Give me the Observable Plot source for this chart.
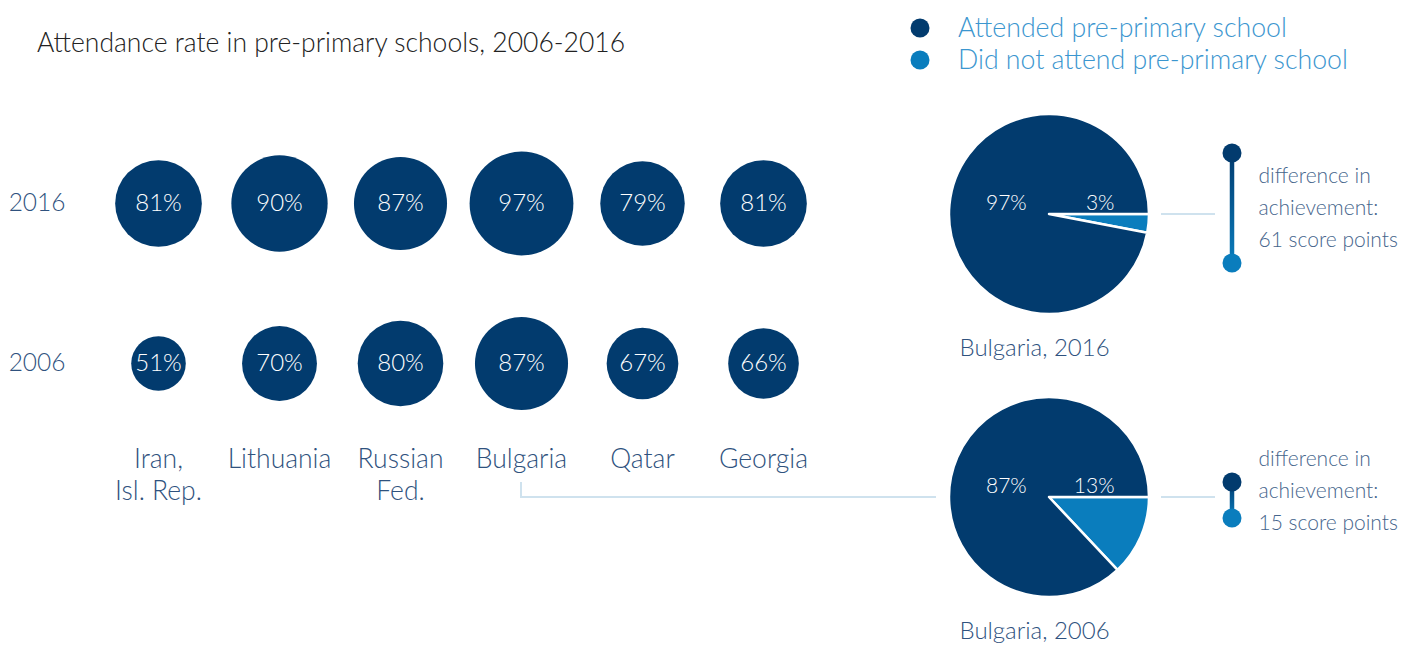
<!DOCTYPE html>
<html><head><meta charset="utf-8">
<script src="https://cdn.jsdelivr.net/npm/d3@7"></script>
<script src="https://cdn.jsdelivr.net/npm/@observablehq/plot@0.6"></script>
<style>
body{margin:0;background:#fff;font-family:Lato,sans-serif;}
#wrap{position:relative;width:1402px;height:646px;overflow:hidden;background:#fff;}
.abs{position:absolute;}
.abs svg{max-width:none;}
</style></head>
<body><div id="wrap"></div>
<script>
// ---- data ----
const countries = ["Iran, Isl. Rep.", "Lithuania", "Russian Fed.", "Bulgaria", "Qatar", "Georgia"];
const countryLabels = ["Iran,\nIsl. Rep.", "Lithuania", "Russian\nFed.", "Bulgaria", "Qatar", "Georgia"];
const years = ["2016", "2006"];
const rate2016 = [81, 90, 87, 97, 79, 81];
const rate2006 = [51, 70, 80, 87, 67, 66];
const pieYears = ["2016", "2006"];
const bulgariaAttended = [97, 87];
const bulgariaNotAttended = [3, 13];
const scoreDiff = [61, 15];
const legendLabels = ["Attended pre-primary school", "Did not attend pre-primary school"];
const titleText = "Attendance rate in pre-primary schools, 2006-2016";

const navy = "#023b6e", light = "#0a7dbd";
const slate = "#2f527e", slate2 = "#46658c", legendText = "#3b96cf", connector = "#cfe2ee";
const colorScale = d3.scaleOrdinal().domain(legendLabels).range([navy, light]);

const wrap = d3.select("#wrap");

// ---- title + legend ----
const head = wrap.append("svg").attr("class", "abs").style("left", "0px").style("top", "0px")
  .attr("width", 1402).attr("height", 80);
head.append("text").attr("x", 37).attr("y", 52).attr("font-family", "Lato").attr("font-weight", 300)
  .attr("font-size", 26.5).attr("fill", "#222").text(titleText);
const lg = head.selectAll("g.lg").data(legendLabels).join("g")
  .attr("transform", (d, i) => `translate(920,${28 + i * 32})`);
lg.append("circle").attr("r", 9.5).attr("fill", d => colorScale(d));
lg.append("text").attr("x", 38).attr("dy", "0.35em").attr("font-family", "Lato").attr("font-weight", 300)
  .attr("font-size", 26.7).attr("fill", legendText).text(d => d);

// ---- bubble grid ----
const bubbleData = years.flatMap(y => countries.map((c, i) => ({year: y, country: c, value: y === "2016" ? rate2016[i] : rate2006[i]})));

function bulgariaConnector(index, scales, values, dim) {
  const xb = scales.x("Bulgaria");
  const y0 = scales.y("2006");
  return d3.create("svg:path")
    .attr("d", `M${xb},${y0 + 119}V${y0 + 134}H${dim.width - 4}`)
    .attr("fill", "none").attr("stroke", connector).attr("stroke-width", 2).node();
}

const plot1 = Plot.plot({
  width: 940, height: 646,
  marginLeft: 157, marginRight: 176, marginTop: 203, marginBottom: 283,
  x: {type: "point", domain: countries, padding: 0, axis: null},
  y: {type: "point", domain: years, padding: 0, axis: null},
  r: {type: "linear", domain: [0, 100], range: [0, 53.5]},
  style: {fontFamily: "Lato", background: "transparent", overflow: "visible"},
  marks: [
    bulgariaConnector,
    Plot.text(years, {y: d => d, frameAnchor: "left", dx: -92, textAnchor: "end", fontSize: 24.5, fill: slate, fontWeight: 300}),
    Plot.text(countries, {x: d => d, y: () => "2006", text: (d, i) => countryLabels[i], lineAnchor: "top", dy: 82, lineHeight: 1.2, fontSize: 26.5, fill: slate, fontWeight: 300}),
    Plot.dot(bubbleData, {x: "country", y: "year", r: "value", fill: navy}),
    Plot.text(bubbleData, {x: "country", y: "year", text: d => d.value + "%", fill: "white", fontSize: 24, fontWeight: 300})
  ]
});
wrap.append("div").attr("class", "abs").style("left", "0px").style("top", "0px").node().appendChild(plot1);

// ---- pies panel ----
const R = 100;
function pies(index, scales, values, dim) {
  const g = d3.create("svg:g");
  const cx = dim.marginLeft + R;
  const arc = d3.arc().innerRadius(0).outerRadius(R);
  const pie = d3.pie().sort(null).startAngle(Math.PI / 2).endAngle(Math.PI / 2 + 2 * Math.PI);
  pieYears.forEach((yr, i) => {
    const cy = scales.y(yr);
    const arcs = pie([bulgariaNotAttended[i], bulgariaAttended[i]]);
    g.append("g").attr("transform", `translate(${cx},${cy})`)
      .selectAll("path").data(arcs).join("path")
      .attr("d", arc).attr("fill", (d, j) => j === 0 ? light : navy)
      .attr("stroke", "white").attr("stroke-width", 2.5).attr("stroke-linejoin", "round");
    g.append("line").attr("x1", cx + R + 12).attr("x2", cx + R + 66).attr("y1", cy).attr("y2", cy)
      .attr("stroke", connector).attr("stroke-width", 2);
  });
  return g.node();
}

const len = d3.scaleLinear().domain([15, 61]).range([36, 110]);
function dumbbells(index, scales, values, dim) {
  const g = d3.create("svg:g");
  const x = dim.marginLeft + 283;
  pieYears.forEach((yr, i) => {
    const cy = scales.y(yr);
    const top = cy - scoreDiff[i];
    const bottom = top + len(scoreDiff[i]);
    const id = "grad" + yr;
    const grad = g.append("defs").append("linearGradient").attr("id", id)
      .attr("gradientUnits", "userSpaceOnUse").attr("x1", x).attr("x2", x).attr("y1", top).attr("y2", bottom);
    grad.append("stop").attr("offset", "0%").attr("stop-color", navy);
    grad.append("stop").attr("offset", "100%").attr("stop-color", light);
    g.append("line").attr("x1", x).attr("x2", x).attr("y1", top).attr("y2", bottom)
      .attr("stroke", `url(#${id})`).attr("stroke-width", 4.5);
    g.append("circle").attr("cx", x).attr("cy", top).attr("r", 9.5).attr("fill", navy);
    g.append("circle").attr("cx", x).attr("cy", bottom).attr("r", 9.5).attr("fill", light);
  });
  return g.node();
}

const plot2 = Plot.plot({
  width: 462, height: 720,
  marginLeft: 9, marginRight: 20, marginTop: 214, marginBottom: 223,
  y: {type: "point", domain: pieYears, padding: 0, axis: null},
  style: {fontFamily: "Lato", background: "transparent", overflow: "visible"},
  marks: [
    pies,
    Plot.text(pieYears, {y: d => d, frameAnchor: "left", dx: 36.5, dy: -11, textAnchor: "start", text: (d, i) => bulgariaAttended[i] + "%", fill: "white", fontSize: 21, fontWeight: 300}),
    Plot.text(pieYears, {y: d => d, frameAnchor: "left", dx: 165, dy: -11, textAnchor: "end", text: (d, i) => bulgariaNotAttended[i] + "%", fill: "white", fontSize: 21, fontWeight: 300}),
    Plot.text(pieYears, {y: d => d, frameAnchor: "left", dx: 10, dy: 134, textAnchor: "start", text: d => "Bulgaria, " + d, fill: slate, fontSize: 24, fontWeight: 300}),
    dumbbells,
    Plot.text(pieYears, {y: d => d, frameAnchor: "left", dx: 309, dy: -10, textAnchor: "start", lineHeight: 1.52, text: (d, i) => `difference in\nachievement:\n${scoreDiff[i]} score points`, fill: slate2, fontSize: 21, fontWeight: 300})
  ]
});
wrap.append("div").attr("class", "abs").style("left", "940px").style("top", "0px").node().appendChild(plot2);
</script>
</body></html>
